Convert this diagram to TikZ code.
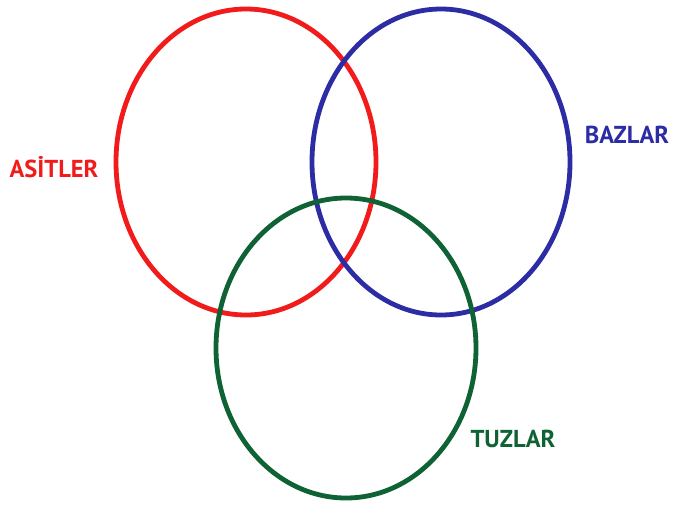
\documentclass[tikz,border=0pt]{standalone}
\usepackage{fontspec}
\setmainfont{PT Sans}
\definecolor{cred}{HTML}{F21B1B}
\definecolor{cblue}{HTML}{2C2CA4}
\definecolor{cgreen}{HTML}{0E6234}
\begin{document}
\begin{tikzpicture}[x=1pt,y=-1pt,
  ring/.style={line width=4.8pt},
  lab/.style={font=\fontsize{24.5}{24.5}\selectfont\bfseries, inner sep=0pt, anchor=center}]
\useasboundingbox (0,0) rectangle (686,504);
\draw[ring, cred] (246,162) ellipse [x radius=130, y radius=153];
\draw[ring, cblue] (441,162) ellipse [x radius=129, y radius=153];
\draw[ring, cgreen] (346,348) ellipse [x radius=130, y radius=150];
\node[lab, text=cred] (asit) at (54,167) {ASİTLER};
\node[lab, text=cblue] (baz) at (627,135) {BAZLAR};
\node[lab, text=cgreen] (tuz) at (513,439) {TUZLAR};
\end{tikzpicture}
\end{document}
